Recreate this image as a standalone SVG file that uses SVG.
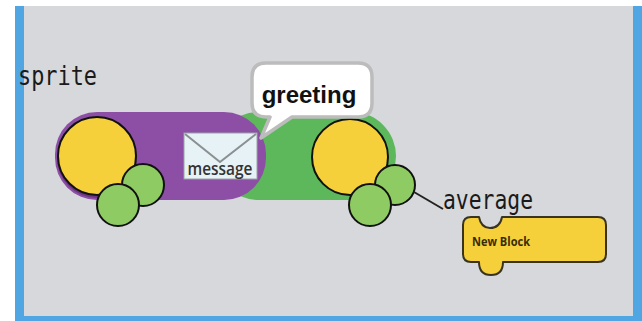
<svg xmlns="http://www.w3.org/2000/svg" width="642" height="321" viewBox="0 0 642 321">
  <style>
    .mono { font-family: "DejaVu Sans Mono", "Liberation Mono", monospace; font-size: 26px; fill: #1a1a1a; }
    .head { fill: #f5d03a; stroke: #111; stroke-width: 2; }
    .hand { fill: #8fcb63; stroke: #111; stroke-width: 2; }
    .conn { stroke: #222; stroke-width: 2; fill: none; }
  </style>

  <!-- frame -->
  <rect x="0" y="0" width="642" height="321" fill="#ffffff"/>
  <rect x="15" y="6" width="627" height="315" fill="#4fa6e2"/>
  <rect x="24" y="6" width="609" height="310" fill="#d6d8db"/>

  <!-- second sprite body (green, behind) -->
  <g id="sprite-average">
    <rect x="215" y="112" width="181" height="88" rx="44" fill="#5cb85a"/>
    <circle class="head" cx="350" cy="157" r="38"/>
    <circle class="hand" cx="395" cy="185" r="20"/>
    <circle class="hand" cx="370" cy="205" r="21"/>
  </g>

  <!-- first sprite body (purple) -->
  <g id="sprite">
    <rect x="55" y="112" width="211" height="88" rx="42" fill="#8d4fa5"/>
    <circle cx="97" cy="158" r="40" fill="#6d3582"/>
    <circle class="head" cx="97" cy="156" r="39"/>
    <circle class="hand" cx="143" cy="185" r="21"/>
    <circle class="hand" cx="118" cy="205" r="21"/>
  </g>

  <!-- message envelope -->
  <g id="message">
    <rect x="184" y="133" width="73" height="46" fill="#e6f2f5" stroke="#9aa3a8" stroke-width="1"/>
    <polyline points="185,134 220,162 256,134" fill="none" stroke="#8a8f92" stroke-width="2"/>
    <text x="220" y="175" text-anchor="middle" font-family="'Open Sans', 'DejaVu Sans', sans-serif" font-weight="600" font-size="18" fill="#333" textLength="65" lengthAdjust="spacingAndGlyphs">message</text>
  </g>

  <!-- speech bubble -->
  <g id="greeting">
    <path d="M266,63 H358 Q372,63 372,77 V103 Q372,117 358,117 H292 L261,138 L270,117 H266 Q252,117 252,103 V77 Q252,63 266,63 Z" fill="#ffffff" stroke="#bcbcbc" stroke-width="3.5" stroke-linejoin="round"/>
    <text x="309" y="103" text-anchor="middle" font-family="'Liberation Sans', Arial, sans-serif" font-weight="bold" font-size="24" fill="#111">greeting</text>
  </g>

  <!-- labels -->
  <g id="label-sprite">
    <text class="mono" x="18" y="85" textLength="79" lengthAdjust="spacingAndGlyphs">sprite</text>
  </g>
  <g id="label-average">
    <text class="mono" x="443" y="209" textLength="90" lengthAdjust="spacingAndGlyphs">average</text>
  </g>

  <!-- connectors -->
  <g id="connectors">
    <line class="conn" x1="414" y1="192" x2="443" y2="209"/>
  </g>

  <!-- block -->
  <g id="new-block">
    <path d="M471,217 H479 Q481,228 490,228 Q500,228 502,217 H598 Q606,217 606,225 V254 Q606,262 598,262 H503 Q503,275 491,275 Q479,275 479,262 H471 Q463,262 463,254 V225 Q463,217 471,217 Z" fill="#f5d03a" stroke="#3a3320" stroke-width="2" stroke-linejoin="round"/>
    <text x="472" y="246" font-family="'Open Sans', 'DejaVu Sans', sans-serif" font-weight="bold" font-size="12" fill="#3a2c05" textLength="58" lengthAdjust="spacingAndGlyphs">New Block</text>
  </g>
</svg>
